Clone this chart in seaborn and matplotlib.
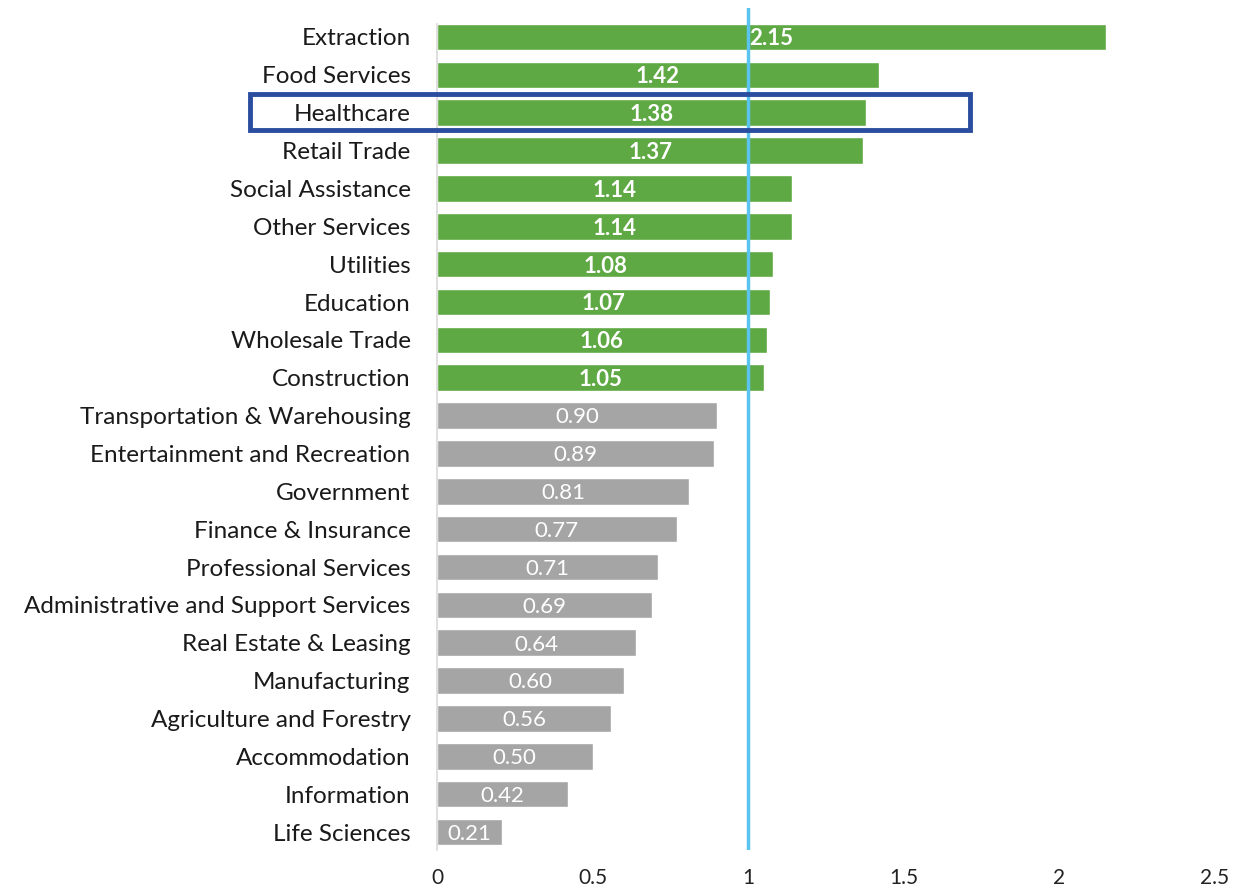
import matplotlib
matplotlib.use("Agg")
import matplotlib.pyplot as plt
import seaborn as sns
import pandas as pd
from matplotlib.patches import Rectangle

categories = ["Extraction", "Food Services", "Healthcare", "Retail Trade", "Social Assistance",
              "Other Services", "Utilities", "Education", "Wholesale Trade", "Construction",
              "Transportation & Warehousing", "Entertainment and Recreation", "Government",
              "Finance & Insurance", "Professional Services", "Administrative and Support Services",
              "Real Estate & Leasing", "Manufacturing", "Agriculture and Forestry", "Accommodation",
              "Information", "Life Sciences"]
values = [2.15, 1.42, 1.38, 1.37, 1.14, 1.14, 1.08, 1.07, 1.06, 1.05,
          0.90, 0.89, 0.81, 0.77, 0.71, 0.69, 0.64, 0.60, 0.56, 0.50, 0.42, 0.21]
x_ticks = [0, 0.5, 1, 1.5, 2, 2.5]
x_tick_labels = ["0", "0.5", "1", "1.5", "2", "2.5"]
highlight = "Healthcare"
reference_value = 1.0

GREEN = "#5fa944"
GRAY = "#a5a5a5"

df = pd.DataFrame({"category": categories, "value": values})
df["group"] = ["above" if v > reference_value else "below" for v in values]

sns.set_style("white")
plt.rcParams["font.family"] = ["Lato", "DejaVu Sans"]

fig = plt.figure(figsize=(12.39, 8.94), dpi=100)
ax = fig.add_axes([437 / 1239, 1 - 850 / 894, (1215 - 437) / 1239, (850 - 8) / 894])

sns.barplot(data=df, y="category", x="value", hue="group", orient="h",
            palette={"above": GREEN, "below": GRAY}, dodge=False, legend=False,
            width=0.7, saturation=1, ax=ax, order=categories)

ax.set_xlim(0, 2.5)
ax.set_ylim(21.475, -0.766)
ax.set_xticks(x_ticks)
ax.set_xticklabels(x_tick_labels)
ax.set_xlabel("")
ax.set_ylabel("")
ax.tick_params(axis="x", length=0, pad=13, labelsize=15, labelcolor="#222222")
ax.tick_params(axis="y", length=0, pad=19, labelsize=17.5, labelcolor="#1a1a1a")

for s in ["top", "right", "bottom"]:
    ax.spines[s].set_visible(False)
ax.spines["left"].set_color("#d9d9d9")
ax.spines["left"].set_linewidth(1.2)
ax.spines["left"].set_bounds(21.475, -0.35)

ax.axvline(reference_value, color="#5bc4ee", lw=2.5, zorder=5)

for i, (c, v) in enumerate(zip(categories, values)):
    above = v > reference_value
    ax.text(v / 2, i + 0.05, f"{v:.2f}", ha="center", va="center", color="white",
            fontsize=16, fontweight="bold" if above else "normal", zorder=6)

rect = Rectangle((250 / 1239, 1 - 130 / 894), (970 - 250) / 1239, 36 / 894,
                 transform=fig.transFigure, fill=False, edgecolor="#2a4d9f",
                 linewidth=3.5, zorder=10)
fig.patches.append(rect)

fig.savefig("out.png", dpi=100)
